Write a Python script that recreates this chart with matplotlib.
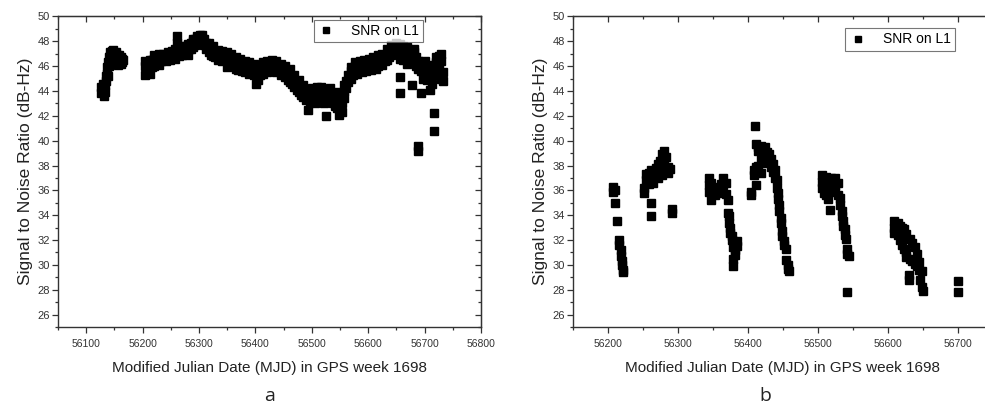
import matplotlib
matplotlib.use("Agg")
import matplotlib.pyplot as plt
from matplotlib.ticker import MultipleLocator

plt.rcParams['font.family'] = ['Liberation Sans', 'DejaVu Sans']

# panel a: MJD positions and SNR readings at each
days_a = [56127, 56129, 56131, 56133, 56135, 56137, 56139, 56141, 56143, 56145,
          56147, 56149, 56151, 56153, 56155, 56157, 56159, 56161, 56163, 56165,
          56205, 56209, 56213, 56217, 56221, 56225, 56229, 56233, 56237, 56241,
          56245, 56249, 56253, 56257, 56261, 56265, 56269, 56273, 56277, 56281,
          56285, 56289, 56293, 56297, 56301, 56305, 56309, 56313, 56317, 56321,
          56325, 56329, 56333, 56337, 56341, 56345, 56349, 56353, 56357, 56361,
          56365, 56369, 56373, 56377, 56381, 56385, 56389, 56393, 56397, 56401,
          56405, 56409, 56413, 56417, 56421, 56425, 56429, 56433, 56437, 56441,
          56445, 56449, 56453, 56457, 56461, 56465, 56469, 56473, 56477, 56481,
          56485, 56489, 56493, 56497, 56501, 56505, 56509, 56513, 56517, 56521,
          56525, 56529, 56533, 56537, 56541, 56545, 56549, 56553, 56557, 56561,
          56565, 56569, 56573, 56577, 56581, 56585, 56589, 56593, 56597, 56601,
          56605, 56609, 56613, 56617, 56621, 56625, 56629, 56633, 56637, 56641,
          56645, 56649, 56653, 56657, 56661, 56665, 56669, 56673, 56677, 56681,
          56685, 56689, 56693, 56697, 56701, 56705, 56709, 56713, 56717, 56721,
          56725, 56729, 56733]
snr_a = [[44.3, 43.8], [44.6, 44.0], [43.6, 44.2], [43.9, 44.5], [44.8, 45.2],
         [45.4, 45.9], [45.2, 46.3], [46.0, 46.7], [46.8, 47.1], [46.5, 47.2],
         [46.9, 47.3], [46.4, 47.0], [46.8, 46.2], [46.6, 47.1], [46.3, 46.9],
         [46.7, 46.1], [46.5, 46.9], [46.2, 46.7], [46.6, 46.3], [46.5],
         [45.3, 46.0, 46.4], [45.6, 46.2], [45.4, 46.0, 46.5], [45.9, 46.5],
         [46.0, 46.6, 46.9], [46.3, 46.8], [46.1, 46.6, 47.0], [46.4, 46.9],
         [46.5, 47.0, 46.7], [46.4, 46.9], [46.6, 47.1, 46.8], [46.5, 47.0],
         [46.7, 47.2], [46.6, 47.0, 47.4], [47.9, 48.4, 47.0], [46.8, 47.3, 47.6],
         [46.9, 47.4], [47.1, 47.6, 47.3], [47.0, 47.5], [47.3, 47.8, 46.9],
         [47.4, 47.9], [47.5, 48.0, 48.2], [47.7, 48.2], [47.9, 48.4, 48.1],
         [48.2, 48.5], [47.9, 48.3, 48.5], [47.7, 48.2], [47.4, 47.9],
         [47.1, 47.6, 47.9], [46.9, 47.4], [46.8, 47.3, 47.6], [46.7, 47.1],
         [46.5, 47.0, 47.3], [46.6, 47.1], [46.4, 46.9, 47.2], [46.5, 47.0],
         [45.9, 46.6, 47.1], [46.3, 46.8], [46.2, 46.7, 47.0], [46.0, 46.5],
         [45.8, 46.3, 46.7], [45.7, 46.2], [45.8, 46.3, 46.6], [45.6, 46.1],
         [45.5, 46.0, 46.4], [45.7, 46.2], [45.4, 45.9, 46.3], [45.5, 46.0],
         [45.3, 45.8, 46.2], [44.6, 45.4, 45.9], [44.9, 45.6, 46.0], [45.3, 45.9],
         [45.4, 45.9, 46.3], [45.6, 46.1], [45.5, 46.0, 46.4], [45.7, 46.2],
         [45.6, 46.1, 46.5], [45.7, 46.2], [45.5, 46.0, 46.4], [45.6, 46.1],
         [45.3, 45.8, 46.2], [45.4, 45.9], [45.1, 45.6, 46.0], [44.9, 45.5],
         [44.7, 45.3, 45.8], [44.6, 45.1], [44.3, 44.9, 45.3], [44.1, 44.7],
         [43.9, 44.5, 44.9], [43.7, 44.3], [43.5, 44.1, 44.5], [43.3, 43.9],
         [42.5, 43.4, 43.9], [43.1, 43.7], [43.2, 43.8, 44.2], [43.0, 43.6],
         [43.3, 43.9, 44.3], [43.1, 43.7], [43.4, 44.0, 44.3], [43.0, 43.6],
         [42.0, 43.2, 43.8], [43.1, 43.7], [43.3, 43.9, 44.2], [43.0, 43.6],
         [42.8, 43.4, 43.9], [42.6, 43.1], [42.1, 42.7, 43.3], [42.3, 43.0],
         [43.4, 44.0, 44.5], [44.2, 44.8], [44.7, 45.3], [45.0, 45.6, 45.9],
         [45.3, 45.8], [45.5, 46.0, 46.3], [45.4, 45.9], [45.6, 46.1, 46.4],
         [45.5, 46.0], [45.7, 46.2, 46.5], [45.6, 46.1], [45.8, 46.3, 46.6],
         [45.7, 46.2], [45.9, 46.4, 46.7], [45.8, 46.3], [46.0, 46.5, 46.9],
         [46.2, 46.7], [46.1, 46.6, 47.0], [46.4, 46.9], [46.5, 47.0, 47.4],
         [46.7, 47.2], [46.9, 47.4, 47.7], [47.0, 47.5], [47.1, 47.6, 47.9],
         [47.2, 47.7], [45.1, 43.8, 46.6, 47.4, 47.8], [46.5, 47.1, 47.6],
         [46.8, 47.3], [46.2, 46.9, 47.5], [46.6, 47.2], [44.5, 46.3, 47.0],
         [46.5, 47.1, 47.4], [46.0, 46.7], [39.6, 39.2, 45.8, 46.4],
         [43.8, 45.6, 46.2], [45.0, 45.8], [45.4, 46.0, 46.4], [44.9, 45.6],
         [44.1, 45.2, 45.8], [44.6, 45.5, 46.1], [42.2, 40.8, 45.3, 46.0],
         [45.6, 46.3, 46.7], [46.1, 46.8], [45.0, 46.4, 47.0], [44.8, 45.5]]

# panel b
days_b = [56207, 56210, 56213, 56216, 56218, 56220, 56222,
          56252, 56255, 56258, 56262, 56265, 56268, 56271, 56274, 56277, 56280,
          56283, 56286, 56289, 56292,
          56344, 56347, 56350, 56353, 56357, 56361, 56365, 56368, 56371, 56373,
          56375, 56377, 56379, 56382, 56385,
          56405, 56408, 56410, 56412, 56415, 56418, 56421, 56424, 56427, 56430,
          56433, 56436, 56439, 56441, 56443, 56445, 56447, 56449, 56452, 56455,
          56457, 56459,
          56506, 56509, 56512, 56515, 56517, 56519, 56522, 56525, 56528, 56531,
          56534, 56536, 56538, 56540, 56542, 56544, 56541,
          56608, 56611, 56614, 56617, 56620, 56623, 56626, 56630, 56632, 56635,
          56638, 56641, 56644, 56646, 56648, 56650,
          56700]
snr_b = [[36.3, 35.9], [35.0, 36.0], [33.5], [32.0, 31.6], [31.2, 30.7], [30.3, 30.0], [29.6, 29.4],
         [35.8, 36.2], [37.3, 36.8], [37.0, 37.4, 36.5], [35.0, 33.9, 37.6], [37.2, 36.6],
         [37.8, 37.3], [38.1, 37.0], [38.4, 37.6], [38.9, 38.0, 37.2], [39.2, 38.5],
         [38.7, 37.6], [37.9, 37.4], [37.7], [34.5, 34.2],
         [37.0, 36.4, 35.9], [36.6, 36.1, 35.2], [36.3, 35.7], [36.0, 35.6], [36.2, 35.8],
         [36.5, 35.9], [37.0, 36.4], [36.6, 35.7], [35.2, 34.2], [33.9, 33.4],
         [33.0, 32.6], [32.3, 32.0], [30.5, 29.9, 31.4], [31.2, 30.8], [31.9, 31.5],
         [35.6, 35.9], [37.6, 37.2], [41.2], [39.7, 37.9, 36.4], [39.5, 39.2, 38.0],
         [39.6, 38.6, 37.4], [39.3, 38.9, 38.2], [39.5, 39.0], [39.1, 38.6], [38.9, 38.3],
         [38.5, 37.9], [38.1, 37.5], [37.6, 37.0], [36.8, 36.2], [35.8, 35.3],
         [34.8, 34.3], [33.8, 33.4], [32.7, 32.3], [31.9, 31.6], [31.3, 30.4],
         [30.0, 29.7], [29.5],
         [37.2, 36.7, 36.2], [36.9, 36.4, 35.8], [37.1, 36.5, 35.6], [36.8, 36.2, 35.3],
         [34.4], [37.0, 36.5, 36.0], [36.8, 36.2], [37.0, 36.4, 35.9], [36.6, 35.6],
         [35.4, 34.8], [34.3, 33.9], [33.5, 33.1], [32.9, 32.4], [32.1], [31.3, 30.9],
         [30.7], [27.8],
         [33.5, 33.0, 32.6], [33.3, 32.8], [33.4, 33.0, 32.4], [33.1, 32.6, 32.0],
         [33.0, 32.2, 31.6], [32.9, 31.3], [32.5, 31.0, 30.6], [29.2, 28.8], [32.1, 30.5],
         [31.8, 30.3], [31.4, 30.1], [30.9, 29.9], [30.2, 29.6], [28.8], [29.5, 28.2],
         [27.9],
         [28.7, 27.8]]

xlabel = 'Modified Julian Date (MJD) in GPS week 1698'
ylabel = 'Signal to Noise Ratio (dB-Hz)'
grey = '#333333'


def flatten(days, groups):
    xs, ys = [], []
    for d, vals in zip(days, groups):
        for v in vals:
            xs.append(d)
            ys.append(v)
    return xs, ys


def style_axes(ax, xlim):
    ax.set_xlim(xlim)
    ax.set_ylim(25, 50)
    ax.xaxis.set_major_locator(MultipleLocator(100))
    ax.xaxis.set_minor_locator(MultipleLocator(50))
    ax.yaxis.set_minor_locator(MultipleLocator(1))
    ax.set_yticks(range(26, 51, 2))
    ax.tick_params(which='both', direction='out', colors=grey, width=0.9)
    ax.tick_params(which='major', length=4)
    ax.tick_params(which='minor', length=2.5)
    ax.tick_params(axis='x', labelsize=7.5, pad=5)
    ax.tick_params(axis='y', labelsize=8, pad=2)
    for s in ax.spines.values():
        s.set_color(grey)
        s.set_linewidth(1.0)
    # top and right ticks point inward, no labels
    top = ax.secondary_xaxis('top')
    top.xaxis.set_major_locator(MultipleLocator(100))
    top.xaxis.set_minor_locator(MultipleLocator(50))
    top.tick_params(which='both', direction='in', labeltop=False, colors=grey, width=0.9)
    top.tick_params(which='major', length=4)
    top.tick_params(which='minor', length=2.5)
    right = ax.secondary_yaxis('right')
    right.yaxis.set_major_locator(MultipleLocator(2))
    right.yaxis.set_minor_locator(MultipleLocator(1))
    right.tick_params(which='both', direction='in', labelright=False, colors=grey, width=0.9)
    right.tick_params(which='major', length=4)
    right.tick_params(which='minor', length=2.5)
    ax.set_xlabel(xlabel, fontsize=11, color='#222222', labelpad=8)
    ax.set_ylabel(ylabel, fontsize=12.5, color='#222222', labelpad=3)


fig = plt.figure(figsize=(9.85, 4.07), dpi=100)
ax1 = fig.add_axes([0.0589, 0.1966, 0.4294, 0.763])
ax2 = fig.add_axes([0.5817, 0.1966, 0.4264, 0.763])

xa, ya = flatten(days_a, snr_a)
xb, yb = flatten(days_b, snr_b)

ax1.plot(xa, ya, 's', color='black', markersize=5.5, label='SNR on L1')
ax2.plot(xb, yb, 's', color='black', markersize=5.5, label='SNR on L1')

style_axes(ax1, (56050, 56800))
style_axes(ax2, (56150, 56750))

for ax, anchor in [(ax1, (0.605, 0.99)), (ax2, (0.648, 0.962))]:
    leg = ax.legend(loc='upper left', bbox_to_anchor=anchor, borderaxespad=0,
                    fancybox=False, fontsize=10, handlelength=1.2, handletextpad=1.2,
                    borderpad=0.3, markerscale=0.75)
    leg.get_frame().set_edgecolor('#555555')
    leg.get_frame().set_linewidth(0.8)

fig.text(0.274, 0.015, 'a', fontsize=14, family=['Open Sans', 'DejaVu Sans'], color='#222222', ha='center')
fig.text(0.777, 0.015, 'b', fontsize=14, family=['Open Sans', 'DejaVu Sans'], color='#222222', ha='center')

fig.savefig('out.png', dpi=100)
